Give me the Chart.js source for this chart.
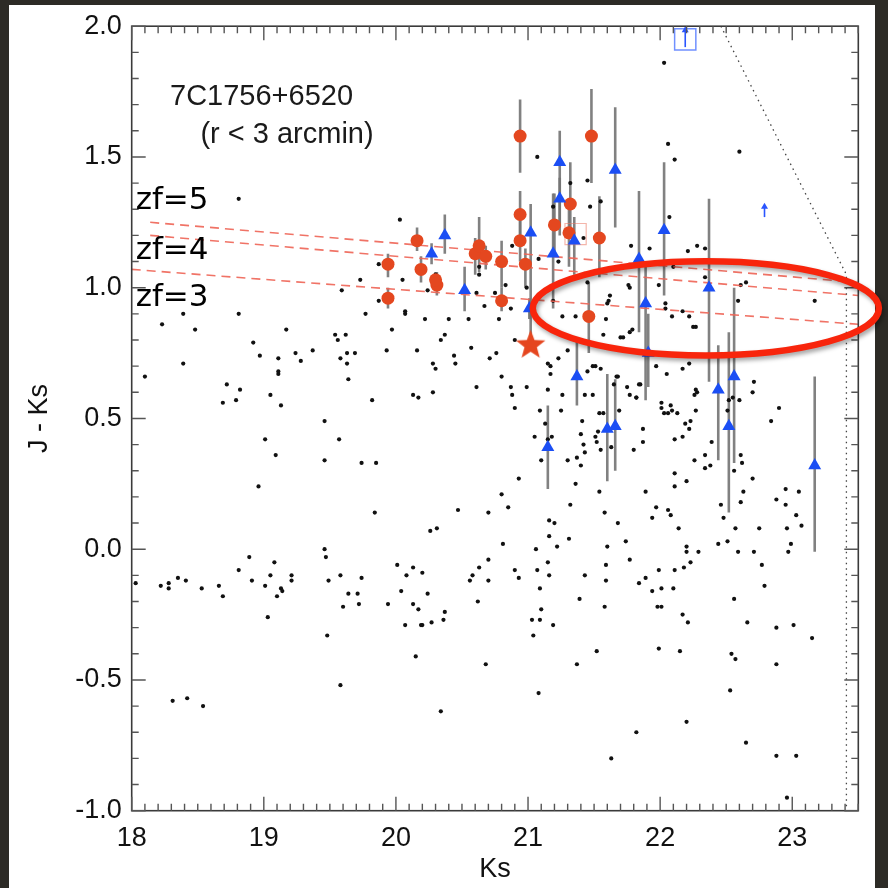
<!DOCTYPE html>
<html>
<head>
<meta charset="utf-8">
<title>7C1756+6520 colour-magnitude</title>
<script src="https://cdn.jsdelivr.net/npm/chart.js@4.4.1/dist/chart.umd.min.js"></script>
<style>
  html, body { margin: 0; padding: 0; background: #2d2b26; }
  #wrap { position: relative; width: 888px; height: 888px; }
</style>
</head>
<body>
<div id="wrap"><canvas id="cmd" width="888" height="888"></canvas></div>
<script>
// axis ticks
const ksTicks = [18, 19, 20, 21, 22, 23];
const jkTicks = [-1.0, -0.5, 0.0, 0.5, 1.0, 1.5, 2.0];

// field objects (small black dots)
const dotKs = [
  18.81, 20.03, 19.87, 19.73, 20.05, 19.59, 19.87, 20.07, 20.07,
  18.39, 18.81, 18.23, 18.48, 19.17, 19.77, 19.97, 18.39, 18.10, 18.92,
  18.97, 19.11, 19.24, 19.28, 19.37, 19.54, 19.56, 19.62, 19.58, 19.63,
  19.63, 19.64, 19.69, 19.93, 19.11, 19.11, 18.72, 18.82, 18.79, 18.69,
  19.05, 19.13, 19.82, 19.46, 19.01, 19.57, 19.09, 19.46, 19.74, 19.85,
  18.96, 19.84, 19.46, 19.47, 20.01, 18.89, 18.81, 19.08, 18.03, 18.22,
  18.28, 18.28, 18.35, 18.41, 18.53, 18.66, 18.69, 18.91, 19.01, 19.05,
  19.21, 19.21, 19.13, 19.10, 19.14, 19.49, 19.58, 19.64, 19.71, 19.74,
  19.03, 19.48, 19.58, 18.31, 18.42, 18.54, 20.15, 20.68, 20.34, 20.47,
  20.70, 20.85, 20.81, 20.90, 20.93, 20.70, 20.63, 20.58, 20.56, 20.70,
  20.62, 20.24, 20.27, 20.37, 20.36, 20.17, 20.13, 20.20, 20.13, 20.08,
  20.04, 20.07, 20.19, 20.20, 20.26, 20.31, 19.94, 19.72, 19.60,
  21.07, 21.45, 21.32, 21.47, 21.55, 21.19, 22.06, 22.11, 22.07, 21.42,
  20.88, 21.08, 21.23, 21.78, 21.92, 22.28, 20.24, 20.30, 20.61, 20.63,
  20.63, 20.75, 20.83, 20.99, 20.22, 20.40, 20.55, 20.67, 20.78, 20.87,
  21.19, 21.26, 21.36, 21.45, 21.59, 21.62, 21.61, 21.60, 21.76, 21.77,
  21.77, 21.79, 21.70, 21.72, 21.57, 21.99, 22.04, 22.04, 22.09, 22.17,
  22.22, 22.25, 22.27, 21.97, 22.05, 22.17, 20.90, 21.15, 21.17, 21.30,
  21.55, 21.49, 21.23, 20.76, 20.71, 20.57, 20.44, 20.45, 20.34, 20.37,
  20.28, 20.30, 20.16, 20.80, 20.87, 20.99, 20.88, 20.61, 20.28, 20.13,
  20.17, 21.15, 21.26, 21.49, 21.43, 21.68, 21.75, 21.84, 21.77, 21.82, 22.27,
  22.03, 22.60, 22.21, 22.34, 22.34, 22.61, 22.65, 22.59, 23.17, 22.10,
  21.17, 20.90, 21.09, 21.13, 21.05, 21.15, 21.18, 21.10, 20.93, 20.80,
  21.25, 21.45, 21.51, 21.41, 21.40, 21.42, 21.43, 21.30, 21.37, 21.40,
  21.36, 21.54, 21.53, 21.51, 21.52, 21.55, 21.63, 21.57, 21.69, 21.65,
  21.67, 21.54, 21.58, 21.68, 21.60, 21.59, 21.59, 21.39, 21.58, 21.43,
  21.52, 21.37, 21.31, 21.32, 21.22, 21.16, 21.16, 21.20, 21.15, 21.16,
  21.06, 21.09, 21.07, 21.10, 21.09, 21.03, 21.19, 21.04, 21.74, 21.77,
  21.84, 21.89, 21.94, 22.01, 22.01, 21.98, 22.10, 21.99, 22.11, 22.18,
  22.17, 22.21, 21.99, 22.15, 22.20, 22.20, 22.23, 22.29, 22.14, 22.06,
  22.08, 21.97, 21.94, 21.89, 22.11, 22.11, 22.20, 22.26, 22.34, 22.38,
  22.34, 22.39, 21.80, 21.87, 21.87, 21.82, 21.85, 22.01, 22.01, 22.03,
  22.06, 22.08, 22.09, 22.13, 22.19, 22.23, 22.22, 22.17, 22.11, 22.22,
  22.27, 22.26, 22.28, 22.51, 22.52, 22.55, 22.60, 22.46, 22.48, 22.51,
  22.57, 22.44, 22.59, 22.61, 22.63, 22.61, 22.62, 22.56, 22.70, 22.70,
  22.71, 22.84, 22.90, 22.75, 22.71, 22.77, 22.79, 22.66, 22.56, 22.54,
  22.57, 22.88, 23.01, 22.88, 23.15, 22.88, 22.95, 22.95, 23.05, 23.03,
  23.07, 22.96, 22.99, 22.97,
  21.08, 21.63, 21.82, 22.20, 22.53, 22.65, 22.88, 23.03, 22.96
];
const dotJK = [
  1.34, 1.26, 1.09, 1.03, 1.03, 0.99, 0.95, 0.91, 0.90,
  0.90, 0.90, 0.86, 0.84, 0.84, 0.90, 0.84, 0.71, 0.66, 0.79,
  0.74, 0.73, 0.75, 0.72, 0.76, 0.82, 0.80, 0.82, 0.73, 0.75,
  0.71, 0.65, 0.75, 0.76, 0.68, 0.67, 0.63, 0.61, 0.57, 0.56,
  0.59, 0.55, 0.57, 0.49, 0.42, 0.42, 0.36, 0.34, 0.33, 0.33,
  0.24, 0.14, 0.00, -0.03, -0.06, -0.03, -0.08, -0.05, -0.13, -0.14,
  -0.13, -0.15, -0.11, -0.12, -0.15, -0.14, -0.18, -0.12, -0.14, -0.10,
  -0.10, -0.12, -0.15, -0.18, -0.16, -0.12, -0.10, -0.17, -0.17, -0.11,
  -0.26, -0.33, -0.52, -0.58, -0.57, -0.60, -0.41, -0.44, -0.62, 0.15,
  0.14, 0.16, 0.02, -0.08, -0.11, -0.04, -0.07, -0.10, -0.12, -0.12,
  -0.20, -0.17, -0.28, -0.24, -0.27, -0.23, -0.21, -0.09, -0.07, -0.10,
  -0.16, -0.29, -0.29, -0.29, 0.07, 0.08, -0.21, -0.21, -0.22,
  1.50, 1.41, 1.40, 1.31, 1.33, 1.31, 1.55, 1.49, 1.27, 1.19,
  1.16, 1.11, 1.10, 1.16, 1.15, 1.16, 0.99, 1.05, 0.98, 1.05,
  1.08, 0.98, 1.01, 1.00, 0.88, 0.88, 0.88, 0.93, 0.88, 0.92,
  0.95, 0.89, 0.89, 1.02, 0.88, 0.97, 0.95, 0.94, 1.01, 1.00,
  0.83, 0.84, 0.81, 0.81, 0.82, 1.01, 0.94, 0.92, 0.89, 0.91,
  0.89, 0.85, 0.85, 0.70, 0.67, 0.69, 0.80, 0.71, 0.70, 0.76,
  0.69, 0.70, 0.73, 0.75, 0.73, 0.77, 0.74, 0.71, 0.80, 0.82,
  0.71, 0.69, 0.76, 0.66, 0.62, 0.62, 0.59, 0.62, 0.60, 0.59,
  0.58, 0.61, 0.59, 0.59, 0.59, 0.66, 0.62, 0.63, 0.59, 0.58, 0.61,
  1.86, 1.52, 1.14, 1.15, 1.04, 1.01, 1.02, 0.95, 0.95, 1.08,
  0.67, 0.54, 0.53, 0.48, 0.43, 0.42, 0.43, 0.34, 0.27, 0.21,
  0.53, 0.68, 0.70, 0.49, 0.44, 0.40, 0.37, 0.34, 0.35, 0.32,
  0.25, 0.52, 0.45, 0.43, 0.41, 0.38, 0.39, 0.52, 0.53, 0.63,
  0.66, 0.22, 0.14, 0.10, 0.01, -0.06, -0.12, -0.19, -0.22, -0.10,
  -0.39, -0.44, 0.04, 0.17, 0.01, 0.05, 0.11, 0.10, -0.05, -0.10,
  0.00, -0.15, -0.08, -0.23, -0.27, -0.27, -0.29, -0.33, 0.03, -0.04,
  -0.13, -0.11, -0.16, -0.15, -0.22, -0.22, -0.15, -0.08, -0.08, -0.07,
  -0.25, -0.28, -0.38, -0.39, 0.01, -0.01, -0.05, -0.01, 0.08, 0.15,
  0.13, 0.16, 0.12, 0.22, 0.29, 0.24, 0.26, 0.34, 0.31, 0.32,
  0.36, 0.41, 0.38, 0.46, 0.41, 0.58, 0.63, 0.56, 0.54, 0.52,
  0.52, 0.55, 0.53, 0.52, 0.48, 0.49, 0.46, 0.43, 0.42, 0.71,
  0.53, 0.59, 0.60, 0.53, 0.57, 0.58, 0.57, 0.17, 0.12, 0.03,
  0.08, 0.02, -0.01, 0.18, 0.22, 0.36, 0.33, 0.30, 0.27, 0.60,
  0.64, 0.49, 0.54, 0.08, -0.01, -0.06, -0.14, -0.28, -0.19, -0.40,
  -0.42, -0.30, -0.29, -0.44, -0.34, 0.19, 0.23, 0.17, 0.22, 0.13,
  0.09, 0.08, 0.02, -0.01,
  -0.55, -0.80, -0.70, -0.66, -0.54, -0.74, -0.79, -0.79, -0.95
];

// red circles with error bars
const redKs = [20.94, 21.48, 20.94, 20.94, 21.32, 21.20, 21.31, 21.54, 20.98, 20.16, 20.19, 20.31, 20.30, 20.60, 20.63, 20.68, 20.80, 20.80, 21.46, 19.94, 19.94];
const redJK = [1.58, 1.58, 1.28, 1.18, 1.32, 1.24, 1.21, 1.19, 1.09, 1.18, 1.07, 1.01, 1.03, 1.13, 1.16, 1.12, 1.10, 0.95, 0.89, 1.09, 0.96];
const redLo = [1.44, 1.40, 1.19, 1.10, 1.21, 1.14, 1.08, 1.04, 1.00, 1.14, 1.02, 0.97, 0.99, 1.05, 1.06, 1.07, 1.00, 0.91, 0.75, 1.04, 0.92];
const redHi = [1.72, 1.76, 1.37, 1.26, 1.48, 1.36, 1.30, 1.35, 1.15, 1.23, 1.12, 1.06, 1.06, 1.19, 1.27, 1.16, 1.18, 1.00, 1.02, 1.13, 1.00];

// blue triangles with error bars
const blueKs = [21.24, 21.24, 21.66, 21.02, 21.35, 21.19, 20.37, 20.27, 20.52, 22.03, 21.84, 21.89, 21.91, 21.37, 21.15, 21.60, 21.66, 22.44, 22.52, 22.56, 23.17, 22.37, 21.01];
const blueJK = [1.48, 1.34, 1.45, 1.21, 1.18, 1.13, 1.20, 1.13, 0.99, 1.22, 1.11, 0.94, 0.75, 0.66, 0.39, 0.46, 0.47, 0.61, 0.47, 0.66, 0.32, 1.00, 0.92];
const blueLo = [1.23, 1.20, 1.23, 0.78, 1.05, 0.92, 1.13, 1.09, 0.91, 0.97, 0.83, 0.57, 0.62, 0.55, 0.23, 0.26, 0.30, 0.34, 0.14, 0.33, -0.01, 0.64, 0.88];
const blueHi = [1.60, 1.42, 1.69, 1.32, 1.27, 1.36, 1.28, 1.17, 1.08, 1.48, 1.37, 1.09, 0.90, 0.80, 0.55, 0.67, 0.65, 0.78, 0.83, 1.00, 0.66, 1.34, 0.96];

// radio galaxy
const starKs = [21.02];
const starJK = [0.78];

// open squares: blue one at the top, faint red one
const blueBoxKs = [22.19];
const blueBoxJK = [1.95];
const redBoxKs = [21.36];
const redBoxJK = [1.205];

// upper-limit arrows
const limKs = [22.19, 22.79];
const limFrom = [1.92, 1.27];
const limTo = [2.0, 1.325];

// zf model tracks (dashed)
const zfNames = ['zf=5', 'zf=4', 'zf=3'];
const zfStartKs = [18.14, 18.14, 18.0];
const zfStartJK = [1.25, 1.20, 1.07];
const zfEndKs = [23.5, 23.5, 23.5];
const zfEndJK = [1.02, 0.97, 0.86];
const zfLabelKs = [18.03, 18.03, 18.03];
const zfLabelJK = [1.30, 1.11, 0.93];

// dotted completeness limit
const limitLineKs = [22.46, 23.41, 23.41];
const limitLineJK = [2.0, 1.05, -1.0];

// highlighted region
const ellipseKs = 22.346, ellipseJK = 0.921, ellipseRKs = 1.31, ellipseRJK = 0.18;

function makeStar(r, color) {
    const cv = document.createElement('canvas');
    cv.width = cv.height = Math.ceil(2 * r + 2);
    const g = cv.getContext('2d');
    g.fillStyle = color;
    g.beginPath();
    for (let i = 0; i < 10; i++) {
        const rr = i % 2 ? r * 0.42 : r;
        const a = -Math.PI / 2 + i * Math.PI / 5;
        g.lineTo(cv.width / 2 + rr * Math.cos(a), cv.height / 2 + rr * Math.sin(a));
    }
    g.closePath();
    g.fill();
    return cv;
}

const pts = (xs, ys) => xs.map((x, i) => ({ x: x, y: ys[i] }));

const zfDatasets = zfNames.map((name, i) => ({
    type: 'line',
    label: name,
    data: [{ x: zfStartKs[i], y: zfStartJK[i] }, { x: zfEndKs[i], y: zfEndJK[i] }],
    borderColor: 'rgba(238,100,85,0.9)',
    borderWidth: 1.6,
    borderDash: [9, 6],
    pointRadius: 0,
    order: 4
}));

// frame, inward ticks, error bars and annotations
const decorPlugin = {
    id: 'decor',
    beforeDraw(chart) {
        const c = chart.ctx;
        c.save();
        c.fillStyle = '#2d2b26';
        c.fillRect(0, 0, chart.width, chart.height);
        c.fillStyle = '#ffffff';
        c.fillRect(9, 5, 866, 883);
        c.restore();
    },
    beforeDatasetsDraw(chart) {
        const c = chart.ctx, a = chart.chartArea;
        const xs = chart.scales.x, ys = chart.scales.y;
        c.save();
        c.beginPath();
        c.rect(a.left, a.top, a.right - a.left, a.bottom - a.top);
        c.clip();
        c.strokeStyle = 'rgba(115,115,115,0.9)';
        c.lineWidth = 2.6;
        [[redKs, redLo, redHi], [blueKs, blueLo, blueHi]].forEach(([ks, lo, hi]) => {
            ks.forEach((k, i) => {
                const X = xs.getPixelForValue(k);
                c.beginPath();
                c.moveTo(X, ys.getPixelForValue(lo[i]));
                c.lineTo(X, ys.getPixelForValue(hi[i]));
                c.stroke();
            });
        });
        c.restore();
    },
    afterDatasetsDraw(chart) {
        const c = chart.ctx, a = chart.chartArea;
        const xs = chart.scales.x, ys = chart.scales.y;
        const X = v => xs.getPixelForValue(v), Y = v => ys.getPixelForValue(v);
        c.save();

        // dotted limit line
        c.strokeStyle = '#444';
        c.lineWidth = 1.3;
        c.setLineDash([1.5, 4]);
        c.beginPath();
        limitLineKs.forEach((k, i) => i ? c.lineTo(X(k), Y(limitLineJK[i])) : c.moveTo(X(k), Y(limitLineJK[i])));
        c.stroke();
        c.setLineDash([]);

        // upper limit arrows
        c.strokeStyle = '#2a55ff';
        c.fillStyle = '#2a55ff';
        c.lineWidth = 1.6;
        limKs.forEach((k, i) => {
            const x0 = X(k), y0 = Y(limFrom[i]), y1 = Y(limTo[i]);
            c.beginPath();
            c.moveTo(x0, y0);
            c.lineTo(x0, y1 + 3);
            c.stroke();
            c.beginPath();
            c.moveTo(x0, y1);
            c.lineTo(x0 - 3.5, y1 + 6);
            c.lineTo(x0 + 3.5, y1 + 6);
            c.closePath();
            c.fill();
        });

        // frame
        c.strokeStyle = '#3a3a3a';
        c.lineWidth = 1.6;
        c.strokeRect(a.left, a.top, a.right - a.left, a.bottom - a.top);

        // inward ticks on all four sides
        c.strokeStyle = '#555';
        c.lineWidth = 1.4;
        c.beginPath();
        for (let i = 0; i <= 55; i++) {
            const v = 18 + i * 0.1;
            const len = i % 10 === 0 ? 14 : 7;
            const x = X(v);
            c.moveTo(x, a.bottom); c.lineTo(x, a.bottom - len);
            c.moveTo(x, a.top); c.lineTo(x, a.top + len);
        }
        for (let i = 0; i <= 30; i++) {
            const v = -1 + i * 0.1;
            const len = i % 5 === 0 ? 14 : 7;
            const y = Y(v);
            c.moveTo(a.left, y); c.lineTo(a.left + len, y);
            c.moveTo(a.right, y); c.lineTo(a.right - len, y);
        }
        c.stroke();

        // labels
        c.fillStyle = '#1a1a1a';
        c.textBaseline = 'alphabetic';
        c.textAlign = 'left';
        c.font = '29px "Liberation Sans", Arial, sans-serif';
        c.fillText('7C1756+6520', X(18.29), Y(1.70));
        c.fillText('(r < 3 arcmin)', X(18.52), Y(1.555));
        c.fillStyle = '#000';
        c.font = '31px "DejaVu Sans", sans-serif';
        zfNames.forEach((name, i) => c.fillText(name, X(zfLabelKs[i]), Y(zfLabelJK[i])));

        // red ellipse
        c.shadowColor = 'rgba(0,0,0,0.35)';
        c.shadowBlur = 4;
        c.shadowOffsetX = 2;
        c.shadowOffsetY = 3;
        c.strokeStyle = '#f8250c';
        c.lineWidth = 6.5;
        c.beginPath();
        c.ellipse(X(ellipseKs), Y(ellipseJK),
            X(ellipseKs + ellipseRKs) - X(ellipseKs),
            Y(ellipseJK - ellipseRJK) - Y(ellipseJK), 0, 0, Math.PI * 2);
        c.stroke();
        c.restore();
    }
};

const tickFont = { family: '"Liberation Sans", Arial, sans-serif', size: 27 };

new Chart(document.getElementById('cmd'), {
    type: 'scatter',
    data: {
        datasets: [
            {
                label: 'radio galaxy',
                data: pts(starKs, starJK),
                pointStyle: makeStar(15.5, '#e5461f'),
                order: 0
            },
            {
                label: 'triangles',
                data: pts(blueKs, blueJK),
                pointStyle: 'triangle',
                pointRadius: 7.5,
                backgroundColor: '#1b4ef4',
                borderWidth: 0,
                order: 1
            },
            {
                label: 'circles',
                data: pts(redKs, redJK),
                pointRadius: 6.5,
                backgroundColor: '#e4471f',
                borderWidth: 0,
                order: 2
            },
            {
                label: 'blue box',
                data: pts(blueBoxKs, blueBoxJK),
                pointStyle: 'rect',
                pointRadius: 15,
                backgroundColor: 'rgba(0,0,0,0)',
                borderColor: '#7090ff',
                borderWidth: 1.5,
                order: 3
            },
            {
                label: 'red box',
                data: pts(redBoxKs, redBoxJK),
                pointStyle: 'rect',
                pointRadius: 15,
                backgroundColor: 'rgba(0,0,0,0)',
                borderColor: 'rgba(235,120,100,0.55)',
                borderWidth: 1.2,
                order: 3
            },
            ...zfDatasets,
            {
                label: 'field',
                data: pts(dotKs, dotJK),
                pointRadius: 2.1,
                backgroundColor: '#111',
                borderWidth: 0,
                order: 5
            }
        ]
    },
    options: {
        responsive: false,
        animation: false,
        events: [],
        layout: { padding: { left: 9, top: 24, right: 29.7, bottom: 0 } },
        plugins: { legend: { display: false }, tooltip: { enabled: false } },
        scales: {
            x: {
                type: 'linear',
                min: 18,
                max: 23.5,
                afterBuildTicks: s => { s.ticks = ksTicks.map(v => ({ value: v })); },
                afterFit: s => { s.height = 77.3; },
                grid: { display: false, drawTicks: false },
                border: { display: false },
                ticks: { padding: 12, color: '#111', font: tickFont, maxRotation: 0, callback: v => String(v) },
                title: { display: true, text: 'Ks', color: '#111', font: tickFont, padding: { top: 0, bottom: 2 } }
            },
            y: {
                type: 'linear',
                min: -1,
                max: 2,
                afterBuildTicks: s => { s.ticks = jkTicks.map(v => ({ value: v })); },
                afterFit: s => { s.width = 122.7; },
                grid: { display: false, drawTicks: false },
                border: { display: false },
                ticks: { padding: 10, color: '#111', font: tickFont, callback: v => Number(v).toFixed(1) },
                title: { display: true, text: 'J - Ks', color: '#111', font: tickFont, padding: { top: 14, bottom: 0 } }
            }
        }
    },
    plugins: [decorPlugin]
});
</script>
</body>
</html>
